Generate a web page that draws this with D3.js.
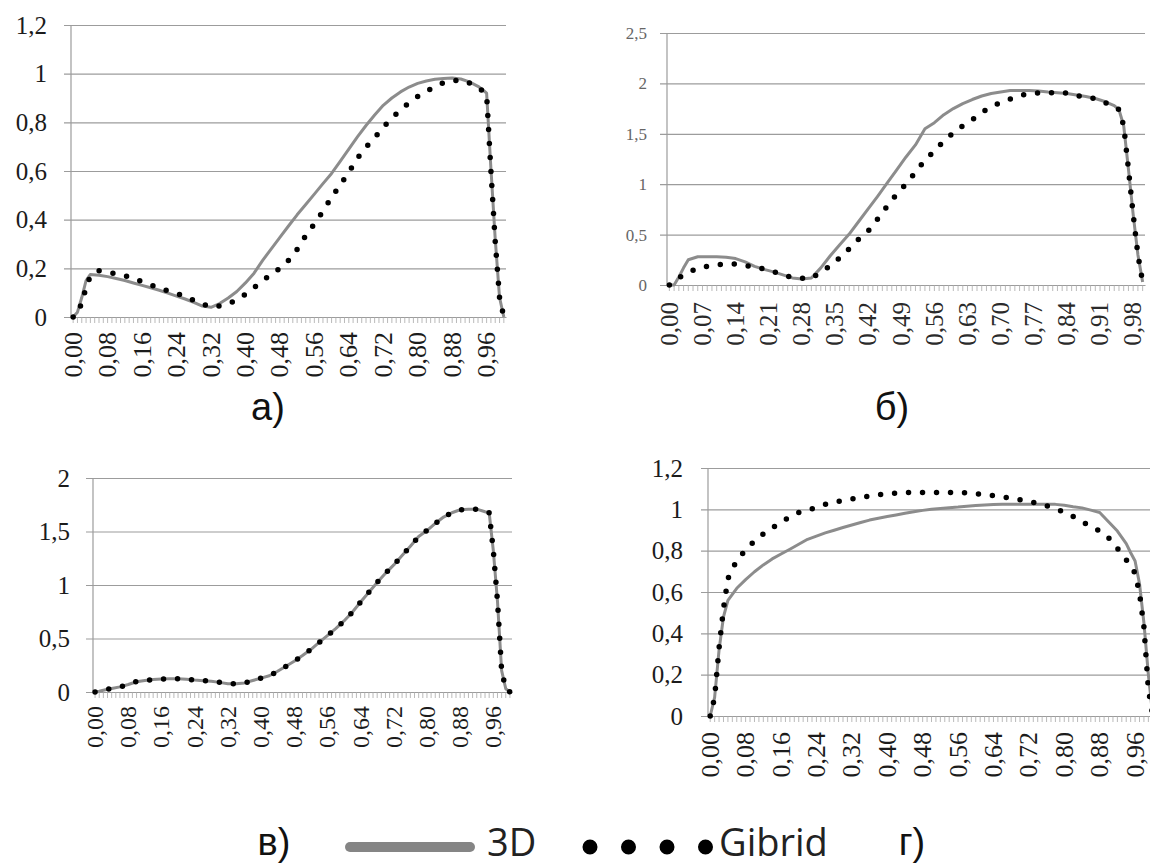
<!DOCTYPE html>
<html>
<head>
<meta charset="utf-8">
<script src="https://cdn.jsdelivr.net/npm/d3@7"></script>
<style>
  body { margin: 0; background: #fff; }
  svg { display: block; }
</style>
</head>
<body>
<script>
// x positions of the readings (category axis runs 0,00 .. 1,00 in steps of 0,01)
const xs = [0, 0.01, 0.02, 0.03, 0.04,
  0.06, 0.08, 0.10, 0.12, 0.14, 0.16, 0.18, 0.20, 0.22, 0.24,
  0.26, 0.28, 0.30, 0.32, 0.34, 0.36, 0.38, 0.40, 0.42, 0.44,
  0.46, 0.48, 0.50, 0.52, 0.54, 0.56, 0.58, 0.60, 0.62, 0.64,
  0.66, 0.68, 0.70, 0.72, 0.74, 0.76, 0.78, 0.80, 0.82, 0.84,
  0.86, 0.88, 0.90, 0.92, 0.94,
  0.95, 0.96, 0.97, 0.98, 0.99, 1.00]

// panel а)
const a3D = [0, 0.02, 0.08, 0.15, 0.175,
  0.172, 0.166, 0.158, 0.15, 0.14, 0.13, 0.12, 0.11, 0.098, 0.086,
  0.074, 0.06, 0.045, 0.04, 0.055, 0.078, 0.105, 0.14, 0.18, 0.233,
  0.28, 0.327, 0.374, 0.42, 0.462, 0.505, 0.548, 0.59, 0.64, 0.69,
  0.74, 0.787, 0.83, 0.87, 0.9, 0.925, 0.945, 0.96, 0.97, 0.977,
  0.98, 0.982, 0.978, 0.966, 0.948,
  0.935, 0.92, 0.61, 0.32, 0.08, 0]
const aGib = [0, 0.01, 0.06, 0.12, 0.17,
  0.19, 0.184, 0.178, 0.17, 0.158, 0.145, 0.132, 0.12, 0.107, 0.097,
  0.085, 0.068, 0.053, 0.041, 0.045, 0.055, 0.07, 0.094, 0.121, 0.149,
  0.175, 0.2, 0.233, 0.278, 0.334, 0.383, 0.435, 0.492, 0.543, 0.595,
  0.653, 0.698, 0.736, 0.78, 0.818, 0.851, 0.881, 0.906, 0.927, 0.946,
  0.963, 0.971, 0.974, 0.962, 0.944,
  0.93, 0.914, 0.6, 0.31, 0.08, 0]

// panel б)
const b3D = [0, 0, 0.08, 0.17, 0.25,
  0.28, 0.28, 0.28, 0.275, 0.262, 0.23, 0.185, 0.155, 0.13, 0.1,
  0.07, 0.06, 0.07, 0.17, 0.29, 0.4, 0.505, 0.63, 0.755, 0.88,
  1.01, 1.14, 1.27, 1.39, 1.55, 1.61, 1.69, 1.75, 1.8, 1.84,
  1.875, 1.9, 1.915, 1.93, 1.93, 1.93, 1.925, 1.915, 1.908, 1.9,
  1.885, 1.87, 1.85, 1.82, 1.78,
  1.74, 1.58, 1.15, 0.7, 0.3, 0.03]
const bGib = [0, 0.03, 0.07, 0.1, 0.125,
  0.165, 0.185, 0.2, 0.21, 0.207, 0.195, 0.176, 0.16, 0.132, 0.1,
  0.076, 0.066, 0.066, 0.13, 0.19, 0.27, 0.36, 0.455, 0.535, 0.655,
  0.78, 0.9, 1.003, 1.12, 1.24, 1.33, 1.43, 1.51, 1.58, 1.64,
  1.71, 1.77, 1.81, 1.845, 1.88, 1.896, 1.905, 1.908, 1.909, 1.904,
  1.88, 1.863, 1.85, 1.81, 1.775,
  1.74, 1.58, 1.15, 0.7, 0.3, 0.03]

// panel в)
const v3D = [0, 0.008, 0.017, 0.025, 0.033,
  0.048, 0.07, 0.096, 0.108, 0.116, 0.121, 0.125, 0.124, 0.12, 0.112,
  0.106, 0.1, 0.09, 0.078, 0.078, 0.085, 0.107, 0.13, 0.152, 0.194,
  0.24, 0.288, 0.341, 0.397, 0.463, 0.527, 0.593, 0.664, 0.746, 0.841,
  0.933, 1.024, 1.109, 1.188, 1.275, 1.362, 1.453, 1.509, 1.575, 1.635,
  1.675, 1.703, 1.708, 1.709, 1.685,
  1.675, 1.32, 0.85, 0.2, 0.03, 0]
const vGib = [0, 0.008, 0.017, 0.025, 0.033,
  0.048, 0.07, 0.098, 0.108, 0.116, 0.121, 0.125, 0.124, 0.12, 0.112,
  0.106, 0.1, 0.09, 0.078, 0.078, 0.085, 0.107, 0.13, 0.152, 0.194,
  0.24, 0.288, 0.341, 0.397, 0.463, 0.527, 0.593, 0.664, 0.746, 0.841,
  0.933, 1.024, 1.109, 1.188, 1.275, 1.362, 1.453, 1.509, 1.575, 1.635,
  1.675, 1.703, 1.708, 1.709, 1.685,
  1.675, 1.32, 0.85, 0.2, 0.03, 0]

// panel г)
const g3D = [0, 0.09, 0.32, 0.48, 0.56,
  0.618, 0.66, 0.698, 0.731, 0.76, 0.784, 0.807, 0.831, 0.855, 0.87,
  0.886, 0.899, 0.912, 0.924, 0.936, 0.948, 0.957, 0.965, 0.973, 0.981,
  0.988, 0.995, 1.0, 1.004, 1.008, 1.011, 1.015, 1.018, 1.021, 1.023,
  1.024, 1.025, 1.025, 1.025, 1.025, 1.025, 1.024, 1.02, 1.013, 1.007,
  0.996, 0.985, 0.94, 0.895, 0.834,
  0.79, 0.75, 0.64, 0.45, 0.2, 0]
const gGib = [0, 0.09, 0.33, 0.52, 0.665,
  0.753, 0.803, 0.847, 0.881, 0.91, 0.938, 0.963, 0.984, 0.996, 1.009,
  1.024, 1.034, 1.043, 1.05, 1.057, 1.065, 1.071, 1.075, 1.079, 1.082,
  1.082, 1.082, 1.082, 1.082, 1.082, 1.082, 1.08, 1.076, 1.07, 1.066,
  1.06, 1.053, 1.046, 1.038, 1.029, 1.017, 1.003, 0.987, 0.965, 0.941,
  0.917, 0.895, 0.862, 0.811, 0.756,
  0.727, 0.69, 0.594, 0.43, 0.13, 0]

// axis ticks
const aYTicks = [0, 0.2, 0.4, 0.6, 0.8, 1, 1.2]
const bYTicks = [0, 0.5, 1, 1.5, 2, 2.5]
const vYTicks = [0, 0.5, 1, 1.5, 2]
const gYTicks = [0, 0.2, 0.4, 0.6, 0.8, 1, 1.2]
const categories = d3.range(101) // 0,00 .. 1,00

const panelLabels = ["а)", "б)", "в)", "г)"]
const seriesNames = ["3D", "Gibrid"]

const width = 1150
const height = 866
const serif = "\"Liberation Serif\", serif"

const ru = d3.formatLocale({decimal: ",", thousands: "\u00a0", grouping: [3], currency: ["", ""]})
const fmtX = ru.format(".2f")
const fmtY = ru.format("~g")

const panels = [
  {s3d: a3D, gib: aGib, yTicks: aYTicks, step: 8, left: 71, right: 506, top: 25, bottom: 317,
    yFont: 25, yPad: 17, yColor: "#1b1b1b", xFont: 26, xOff: 15, xColor: "#1b1b1b"},
  {s3d: b3D, gib: bGib, yTicks: bYTicks, step: 7, left: 667, right: 1145, top: 33, bottom: 285,
    yFont: 17, yPad: 13, yColor: "#666", xFont: 25, xOff: 17, xColor: "#2a2a2a"},
  {s3d: v3D, gib: vGib, yTicks: vYTicks, step: 8, left: 93, right: 512, top: 478, bottom: 692,
    yFont: 25, yPad: 16, yColor: "#1b1b1b", xFont: 24, xOff: 14, xColor: "#1b1b1b"},
  {s3d: g3D, gib: gGib, yTicks: gYTicks, step: 8, left: 708, right: 1155, top: 468, bottom: 716,
    yFont: 25, yPad: 18, yColor: "#1b1b1b", xFont: 26, xOff: 16, xColor: "#1b1b1b"},
]

const svg = d3.select("body").append("svg")
  .attr("width", width)
  .attr("height", height)
  .attr("viewBox", [0, 0, width, height])

svg.append("rect").attr("width", width).attr("height", height).attr("fill", "#fff")

const grid = "#9c9c9c"

panels.forEach(p => {
  const x = d3.scaleBand(categories, [p.left, p.right])
  const y = d3.scaleLinear([0, d3.max(p.yTicks)], [p.bottom, p.top])
  const bw = x.bandwidth()
  const g = svg.append("g")

  // gridlines + y labels
  g.append("g")
    .attr("transform", `translate(${p.left - 7},0)`)
    .call(d3.axisLeft(y).tickValues(p.yTicks).tickSize(-(p.right - p.left + 7))
      .tickPadding(p.yPad).tickFormat(fmtY))
    .call(a => a.select(".domain").remove())
    .call(a => a.selectAll("line").attr("stroke", grid).attr("stroke-width", 1.2))
    .call(a => a.selectAll("text")
      .style("font-family", serif)
      .style("font-size", p.yFont + "px")
      .attr("fill", p.yColor))

  // vertical axis line
  g.append("line")
    .attr("x1", p.left).attr("x2", p.left)
    .attr("y1", p.top).attr("y2", p.bottom)
    .attr("stroke", grid).attr("stroke-width", 1.2)

  // minor category ticks
  g.append("g")
    .attr("transform", `translate(0,${p.bottom})`)
    .call(d3.axisBottom(x).tickValues(categories).tickSize(6).tickSizeOuter(0).tickFormat(""))
    .call(a => a.select(".domain").attr("stroke", grid).attr("stroke-width", 1.2))
    .call(a => a.selectAll(".tick line").attr("stroke", "#a8a8a8").attr("stroke-width", 0.8))

  // rotated category labels
  g.append("g")
    .attr("transform", `translate(0,${p.bottom})`)
    .call(d3.axisBottom(x).tickValues(categories.filter(i => i % p.step === 0))
      .tickSize(0).tickFormat(i => fmtX(i / 100)))
    .call(a => a.select(".domain").remove())
    .call(a => a.selectAll("text")
      .attr("transform", "rotate(-90)")
      .attr("x", -p.xOff)
      .attr("y", 0)
      .attr("dy", "0.33em")
      .attr("text-anchor", "end")
      .style("font-family", serif)
      .style("font-size", p.xFont + "px")
      .attr("fill", p.xColor))

  const line = d3.line()
    .x(d => x(Math.round(d[0] * 100)) + bw / 2)
    .y(d => y(d[1]))

  g.append("path")
    .datum(d3.zip(xs, p.s3d))
    .attr("fill", "none")
    .attr("stroke", "#8c8c8c")
    .attr("stroke-width", 3)
    .attr("stroke-linejoin", "round")
    .attr("d", line)

  g.append("path")
    .datum(d3.zip(xs, p.gib))
    .attr("fill", "none")
    .attr("stroke", "#000")
    .attr("stroke-width", 5.5)
    .attr("stroke-linecap", "round")
    .attr("stroke-dasharray", "0 14")
    .attr("d", line)
})

// panel letters
const letterPos = [[268, 420], [892, 420], [274, 855], [912, 855]]
svg.append("g")
  .selectAll("text")
  .data(panelLabels)
  .join("text")
  .attr("x", (d, i) => letterPos[i][0])
  .attr("y", (d, i) => letterPos[i][1])
  .attr("text-anchor", "middle")
  .style("font-family", "\"Liberation Sans\", sans-serif")
  .style("font-size", "38px")
  .attr("fill", "#111")
  .text(d => d)

// legend
const legend = svg.append("g")
legend.append("line")
  .attr("x1", 350).attr("x2", 470).attr("y1", 847).attr("y2", 847)
  .attr("stroke", "#858585").attr("stroke-width", 10).attr("stroke-linecap", "round")
legend.append("text")
  .attr("x", 487).attr("y", 856)
  .style("font-family", "\"Open Sans\", sans-serif").style("font-size", "38px").attr("fill", "#222")
  .text(seriesNames[0])
legend.append("line")
  .attr("x1", 590).attr("x2", 706).attr("y1", 847).attr("y2", 847)
  .attr("stroke", "#000").attr("stroke-width", 15).attr("stroke-linecap", "round")
  .attr("stroke-dasharray", "0 38.5")
legend.append("text")
  .attr("x", 719).attr("y", 856)
  .style("font-family", "\"Open Sans\", sans-serif").style("font-size", "38px").attr("fill", "#222")
  .text(seriesNames[1])
</script>
</body>
</html>
